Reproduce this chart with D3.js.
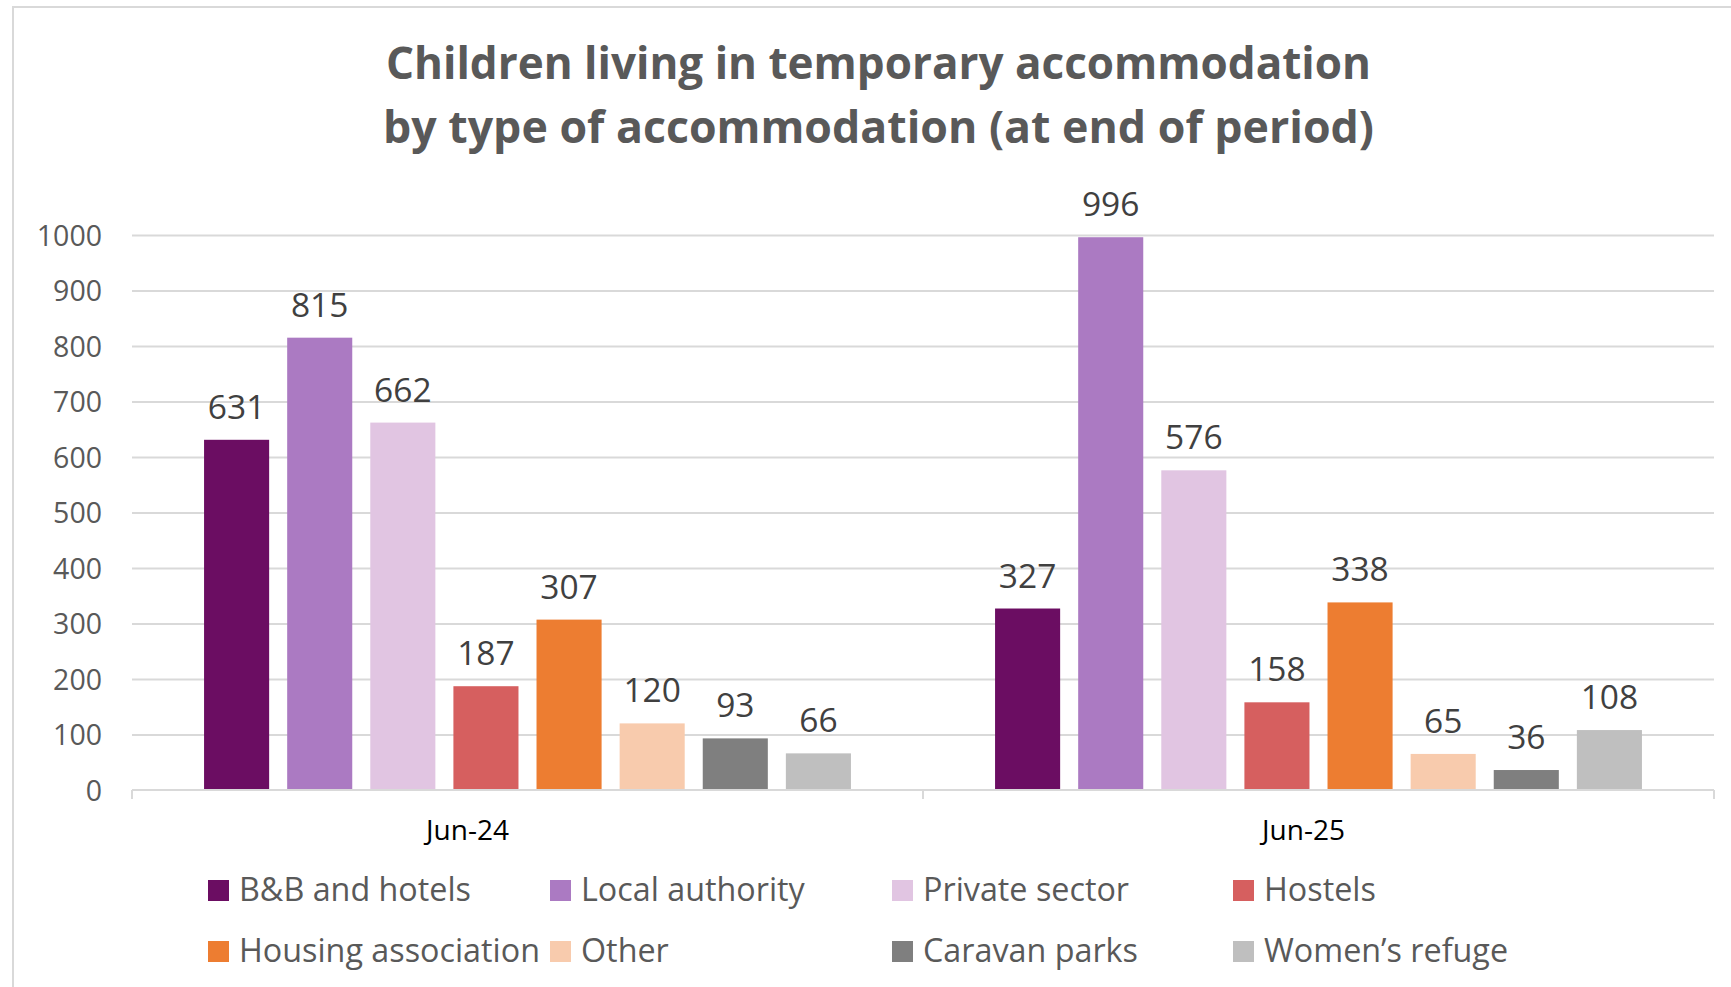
<!DOCTYPE html>
<html>
<head>
<meta charset="utf-8">
<script src="https://cdn.jsdelivr.net/npm/d3@7"></script>
<style>
  html, body { margin:0; padding:0; background:#fff; }
  svg { display:block; font-family:"Open Sans", "Noto Sans", sans-serif; }
</style>
</head>
<body>
<svg id="chart" width="1731" height="987"></svg>
<script>
// --- Data ---
const periods = ["Jun-24", "Jun-25"];
const types = ["B&B and hotels", "Local authority", "Private sector", "Hostels",
               "Housing association", "Other", "Caravan parks", "Women\u2019s refuge"];
const jun24 = [631, 815, 662, 187, 307, 120, 93, 66];
const jun25 = [327, 996, 576, 158, 338, 65, 36, 108];
const yTicks = [0, 100, 200, 300, 400, 500, 600, 700, 800, 900, 1000];
const colors = ["#6B0D62", "#AB7AC2", "#E1C5E2", "#D65F5F",
                "#ED7D31", "#F8CBAD", "#7F7F7F", "#BFBFBF"];

const rows = periods.map((p, i) => ({
  period: p,
  values: types.map((t, j) => ({ type: t, value: (i === 0 ? jun24 : jun25)[j] }))
}));

// --- Layout ---
const svg = d3.select("#chart");
const plot = { l: 132, r: 1714, t: 235, b: 790 };

// chart frame
svg.append("rect")
  .attr("x", 13).attr("y", 7).attr("width", 1760).attr("height", 1000)
  .attr("fill", "#fff").attr("stroke", "#d9d9d9").attr("stroke-width", 2);

// title
const title = svg.append("g").attr("fill", "#595959")
  .attr("font-weight", 700).attr("font-size", 45).attr("text-anchor", "middle");
[["Children living in temporary accommodation", 79, 985],
 ["by type of accommodation (at end of period)", 143, 991]].forEach(([t, y, w]) => {
  title.append("text").attr("x", 878.5).attr("y", y)
    .attr("textLength", w).attr("lengthAdjust", "spacingAndGlyphs").text(t);
});

// scales
const y = d3.scaleLinear().domain([0, 1000]).range([plot.b, plot.t]);
const x0 = d3.scaleBand().domain(periods).range([plot.l, plot.r]).padding(0);
const x1 = d3.scaleBand().domain(types).range([0, x0.bandwidth()])
  .paddingInner(0.217).paddingOuter(0.867);
const color = d3.scaleOrdinal().domain(types).range(colors);

// gridlines
svg.append("g")
  .attr("transform", `translate(${plot.l},0)`)
  .call(d3.axisLeft(y).tickValues(yTicks.filter(d => d > 0)).tickSize(-(plot.r - plot.l)).tickFormat(""))
  .call(g => g.select(".domain").remove())
  .call(g => g.selectAll("line").attr("stroke", "#d9d9d9").attr("stroke-width", 2));

// y tick labels
svg.append("g")
  .attr("transform", `translate(102,0)`)
  .call(d3.axisLeft(y).tickValues(yTicks).tickSize(0).tickPadding(0).tickFormat(d3.format("d")))
  .call(g => g.select(".domain").remove())
  .call(g => g.selectAll("text")
    .attr("font-family", "'Open Sans', sans-serif")
    .attr("font-size", 28.5).attr("fill", "#595959").attr("dy", "0.36em"));

// bars
const groups = svg.append("g").selectAll("g")
  .data(rows).join("g")
  .attr("transform", d => `translate(${x0(d.period)},0)`);

groups.selectAll("rect")
  .data(d => d.values).join("rect")
  .attr("x", d => x1(d.type))
  .attr("y", d => y(d.value))
  .attr("width", x1.bandwidth())
  .attr("height", d => y(0) - y(d.value))
  .attr("fill", d => color(d.type));

groups.selectAll("text")
  .data(d => d.values).join("text")
  .attr("x", d => x1(d.type) + x1.bandwidth() / 2)
  .attr("y", d => y(d.value) - 21)
  .attr("text-anchor", "middle")
  .attr("font-size", 33.5).attr("fill", "#404040")
  .text(d => d.value);

// x axis line + boundary ticks
const ax = svg.append("g").attr("stroke", "#d9d9d9").attr("stroke-width", 2);
ax.append("line").attr("x1", plot.l).attr("x2", plot.r).attr("y1", y(0)).attr("y2", y(0));
[...periods.map(p => x0(p)), plot.r].forEach(xv => {
  ax.append("line").attr("x1", xv).attr("x2", xv).attr("y1", y(0)).attr("y2", y(0) + 9);
});

// category labels (Excel draws them slightly left of centre)
const labelShift = [-60, -15];
svg.append("g").selectAll("text")
  .data(periods).join("text")
  .attr("x", (d, i) => x0(d) + x0.bandwidth() / 2 + labelShift[i])
  .attr("y", 840)
  .attr("text-anchor", "middle")
  .attr("font-size", 28).attr("fill", "#000")
  .text(d => d);

// legend
const legCols = [208, 550, 892, 1233];
const legRows = [901, 962];
const leg = svg.append("g").selectAll("g")
  .data(types).join("g")
  .attr("transform", (d, i) => `translate(${legCols[i % 4]},${legRows[Math.floor(i / 4)]})`);
leg.append("rect")
  .attr("x", 0).attr("y", -21).attr("width", 21).attr("height", 21)
  .attr("fill", d => color(d));
leg.append("text")
  .attr("x", 31).attr("y", 0)
  .attr("font-size", 32.3).attr("fill", "#595959")
  .text(d => d);
</script>
</body>
</html>
